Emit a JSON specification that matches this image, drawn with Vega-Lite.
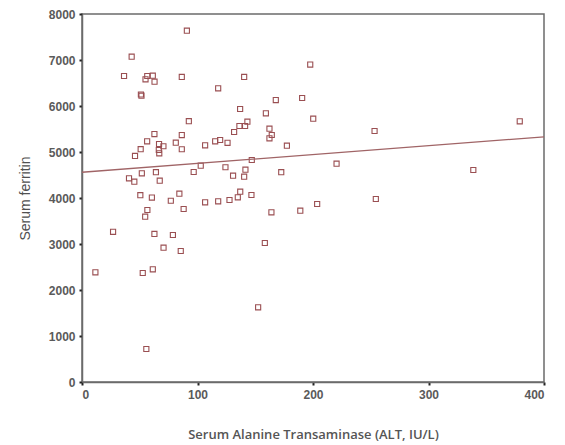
{
  "$schema": "https://vega.github.io/schema/vega-lite/v6.json",
  "autosize": "none",
  "width": 462,
  "height": 368,
  "padding": {"left": 82, "top": 14, "right": 21, "bottom": 63},
  "background": "white",
  "config": {
    "view": {"stroke": "#6b6b6b", "strokeWidth": 1.5},
    "axis": {
      "grid": false,
      "domainColor": "#6b6b6b",
      "domainWidth": 1.5,
      "tickColor": "#222",
      "tickSize": 3,
      "tickWidth": 2,
      "labelFont": "Liberation Sans",
      "labelFontSize": 12,
      "labelFontWeight": "bold",
      "labelColor": "#5a5a5a",
      "titleFont": "Open Sans",
      "titleFontSize": 13,
      "titleColor": "#555",
      "titleFontWeight": 600
    }
  },
  "datasets": {
    "pts": [
      {"alt": 11.6, "ferritin": 2384}, {"alt": 26.9, "ferritin": 3264}, {"alt": 36.4, "ferritin": 6652},
      {"alt": 40.7, "ferritin": 4428}, {"alt": 43, "ferritin": 7072}, {"alt": 45.3, "ferritin": 4355},
      {"alt": 45.9, "ferritin": 4915}, {"alt": 50.5, "ferritin": 4062}, {"alt": 50.8, "ferritin": 5062},
      {"alt": 51, "ferritin": 6250}, {"alt": 51.5, "ferritin": 6225}, {"alt": 51.8, "ferritin": 4536},
      {"alt": 52.6, "ferritin": 2370}, {"alt": 54.7, "ferritin": 3594}, {"alt": 55, "ferritin": 6580},
      {"alt": 55.7, "ferritin": 717}, {"alt": 56.4, "ferritin": 5233}, {"alt": 56.5, "ferritin": 6652},
      {"alt": 56.6, "ferritin": 3739}, {"alt": 60.5, "ferritin": 4010}, {"alt": 61.3, "ferritin": 2450},
      {"alt": 61.3, "ferritin": 6659}, {"alt": 62.8, "ferritin": 6529}, {"alt": 62.7, "ferritin": 5390},
      {"alt": 62.7, "ferritin": 3218}, {"alt": 64, "ferritin": 4562}, {"alt": 66.7, "ferritin": 5174},
      {"alt": 66.5, "ferritin": 5044}, {"alt": 66.9, "ferritin": 4971}, {"alt": 67.3, "ferritin": 4377},
      {"alt": 70.5, "ferritin": 5125}, {"alt": 70.6, "ferritin": 2920}, {"alt": 76.9, "ferritin": 3940},
      {"alt": 78.7, "ferritin": 3196}, {"alt": 81.2, "ferritin": 5203}, {"alt": 84.3, "ferritin": 4095},
      {"alt": 85.5, "ferritin": 2848}, {"alt": 86.4, "ferritin": 6631}, {"alt": 86.4, "ferritin": 5367},
      {"alt": 86.4, "ferritin": 5060}, {"alt": 88, "ferritin": 3761}, {"alt": 90.8, "ferritin": 7637},
      {"alt": 92.5, "ferritin": 5670}, {"alt": 96.7, "ferritin": 4565}, {"alt": 102.8, "ferritin": 4703},
      {"alt": 106.6, "ferritin": 5145}, {"alt": 106.6, "ferritin": 3906}, {"alt": 115.3, "ferritin": 5232},
      {"alt": 117.9, "ferritin": 6385}, {"alt": 117.9, "ferritin": 3928}, {"alt": 119.6, "ferritin": 5261},
      {"alt": 124.2, "ferritin": 4668}, {"alt": 126, "ferritin": 5200}, {"alt": 127.7, "ferritin": 3957},
      {"alt": 130.8, "ferritin": 4485}, {"alt": 131.7, "ferritin": 5435}, {"alt": 134.9, "ferritin": 4015},
      {"alt": 136.3, "ferritin": 5565}, {"alt": 136.9, "ferritin": 5935}, {"alt": 137, "ferritin": 4137},
      {"alt": 140.4, "ferritin": 6631}, {"alt": 140.4, "ferritin": 4463}, {"alt": 141.2, "ferritin": 5565},
      {"alt": 141.5, "ferritin": 4616}, {"alt": 143.2, "ferritin": 5659}, {"alt": 146.7, "ferritin": 4065},
      {"alt": 147, "ferritin": 4826}, {"alt": 152.5, "ferritin": 1624}, {"alt": 158.3, "ferritin": 3022},
      {"alt": 159.2, "ferritin": 5841}, {"alt": 162.3, "ferritin": 5507}, {"alt": 162.3, "ferritin": 5298},
      {"alt": 164.3, "ferritin": 5370}, {"alt": 164, "ferritin": 3689}, {"alt": 167.8, "ferritin": 6128},
      {"alt": 172.5, "ferritin": 4562}, {"alt": 177.4, "ferritin": 5138}, {"alt": 189, "ferritin": 3725},
      {"alt": 190.6, "ferritin": 6174}, {"alt": 197.6, "ferritin": 6900}, {"alt": 200.2, "ferritin": 5725},
      {"alt": 203.6, "ferritin": 3870}, {"alt": 220.4, "ferritin": 4746}, {"alt": 253.3, "ferritin": 5457},
      {"alt": 254.4, "ferritin": 3978}, {"alt": 338.8, "ferritin": 4609}, {"alt": 379, "ferritin": 5667}
    ],
    "fit": [
      {"alt": 0, "ferritin": 4560},
      {"alt": 400, "ferritin": 5330}
    ]
  },
  "layer": [
    {
      "data": {"name": "pts"},
      "mark": {"type": "point", "shape": "square", "filled": false, "size": 26, "stroke": "#9a4f52", "strokeWidth": 1.1, "opacity": 1},
      "encoding": {
        "x": {"field": "alt", "type": "quantitative", "scale": {"domain": [0, 400], "nice": false},
              "axis": {"values": [0, 100, 200, 300, 400], "format": "d", "title": "Serum Alanine Transaminase (ALT, IU/L)", "titlePadding": 28, "labelPadding": 4}},
        "y": {"field": "ferritin", "type": "quantitative", "scale": {"domain": [0, 8000], "nice": false},
              "axis": {"values": [0, 1000, 2000, 3000, 4000, 5000, 6000, 7000, 8000], "format": "d", "title": "Serum ferritin", "titlePadding": 16, "labelPadding": 4, "titleFont": "Liberation Sans", "titleFontWeight": "normal", "titleFontSize": 14, "titleColor": "#505050"}}
      }
    },
    {
      "data": {"name": "fit"},
      "mark": {"type": "line", "stroke": "#a06466", "strokeWidth": 1.3},
      "encoding": {
        "x": {"field": "alt", "type": "quantitative"},
        "y": {"field": "ferritin", "type": "quantitative"}
      }
    }
  ]
}
